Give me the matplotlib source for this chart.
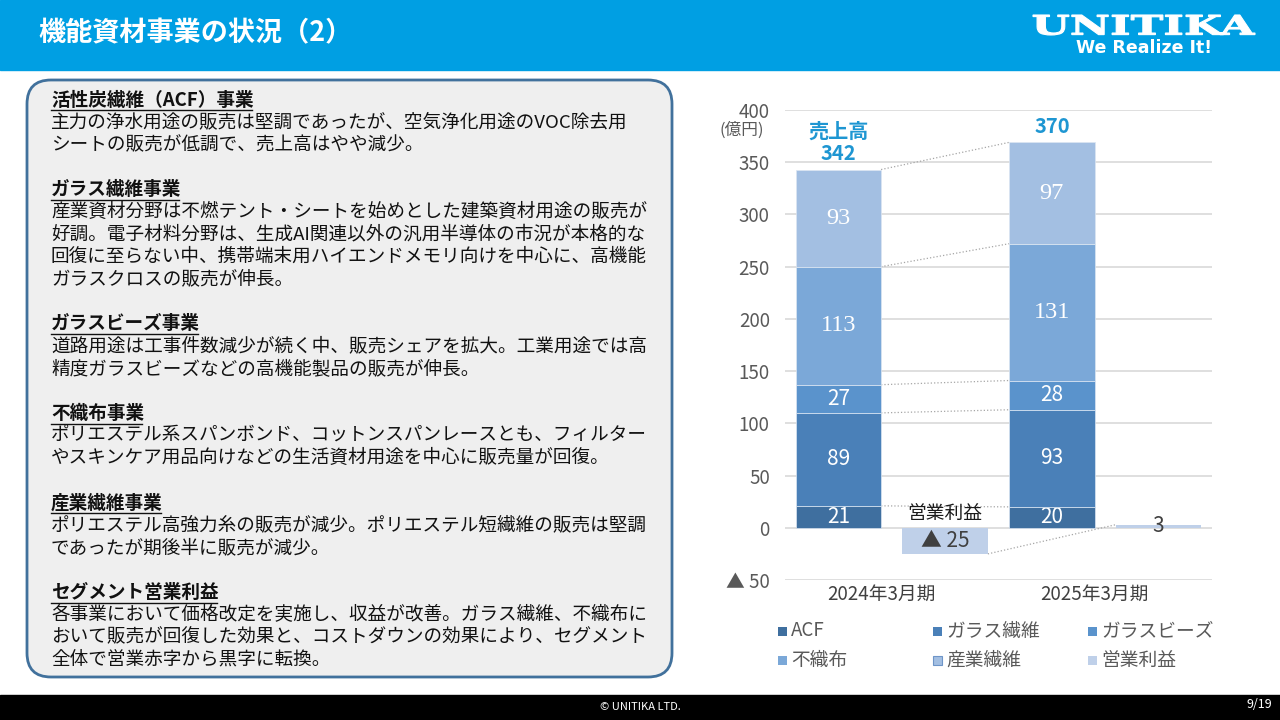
import matplotlib
matplotlib.use('Agg')
import matplotlib.pyplot as plt
from matplotlib.patches import Rectangle, FancyBboxPatch, PathPatch
from matplotlib.textpath import TextPath
from matplotlib.font_manager import FontProperties
from matplotlib.transforms import Affine2D
import numpy as np

plt.rcParams['font.family'] = ['Noto Sans CJK JP', 'DejaVu Sans']

# ---- データ ----
periods = ['2024年3月期', '2025年3月期']
segment_names = ['ACF', 'ガラス繊維', 'ガラスビーズ', '不織布', '産業繊維']
acf = [21, 20]
glass_fiber = [89, 93]
glass_beads = [27, 28]
nonwoven = [113, 131]
industrial = [93, 97]
sales_total = [342, 370]
op_profit = [-25, 3]
y_ticks = [-50, 0, 50, 100, 150, 200, 250, 300, 350, 400]
y_tick_labels = ['▲ 50', '0', '50', '100', '150', '200', '250', '300', '350', '400']
legend_names = ['ACF', 'ガラス繊維', 'ガラスビーズ', '不織布', '産業繊維', '営業利益']

seg_colors = ['#3F6F9F', '#4A80B8', '#5A93CC', '#7BA8D8', '#A3BFE2']
profit_color = '#BFD0E9'
# 上2系列のラベルは明朝系
label_fonts = [('Noto Sans CJK JP', 15), ('Noto Sans CJK JP', 15), ('Noto Sans CJK JP', 15),
               ('Liberation Serif', 17.5), ('Liberation Serif', 17.5)]

# 本文
sections = [
    ('活性炭繊維（ACF）事業', [
        '主力の浄水用途の販売は堅調であったが、空気浄化用途のVOC除去用',
        'シートの販売が低調で、売上高はやや減少。']),
    ('ガラス繊維事業', [
        '産業資材分野は不燃テント・シートを始めとした建築資材用途の販売が',
        '好調。電子材料分野は、生成AI関連以外の汎用半導体の市況が本格的な',
        '回復に至らない中、携帯端末用ハイエンドメモリ向けを中心に、高機能',
        'ガラスクロスの販売が伸長。']),
    ('ガラスビーズ事業', [
        '道路用途は工事件数減少が続く中、販売シェアを拡大。工業用途では高',
        '精度ガラスビーズなどの高機能製品の販売が伸長。']),
    ('不織布事業', [
        'ポリエステル系スパンボンド、コットンスパンレースとも、フィルター',
        'やスキンケア用品向けなどの生活資材用途を中心に販売量が回復。']),
    ('産業繊維事業', [
        'ポリエステル高強力糸の販売が減少。ポリエステル短繊維の販売は堅調',
        'であったが期後半に販売が減少。']),
    ('セグメント営業利益', [
        '各事業において価格改定を実施し、収益が改善。ガラス繊維、不織布に',
        'おいて販売が回復した効果と、コストダウンの効果により、セグメント',
        '全体で営業赤字から黒字に転換。']),
]

fig = plt.figure(figsize=(12.8, 7.2), dpi=100)

# 背景（ピクセル座標）
bg = fig.add_axes([0, 0, 1, 1])
bg.set_xlim(0, 1280)
bg.set_ylim(720, 0)
bg.axis('off')

bg.add_patch(Rectangle((0, 0), 1280, 70, color='#009FE3'))
bg.add_patch(Rectangle((0, 695), 1280, 25, color='black'))
bg.text(38, 33, '機能資材事業の状況（2）', color='white', fontsize=19.5,
        fontweight='bold', va='center')

# ロゴ
tp = TextPath((0, 0), 'UNITIKA', size=20,
              prop=FontProperties(family='DejaVu Serif', weight='bold'))
ext = tp.get_extents()
tr = Affine2D().translate(-ext.x0, -ext.y0).scale(222 / ext.width, -20 / ext.height).translate(1033, 35)
bg.add_patch(PathPatch(tp, transform=tr + bg.transData, fc='white', ec='white', lw=0.8))
bg.text(1144, 48, 'We Realize It!', color='white', fontsize=12.5, fontweight='bold',
        family='DejaVu Sans', ha='center', va='center')

bg.text(640, 707.5, '© UNITIKA LTD.', color='white', fontsize=8, ha='center', va='center')
bg.text(1272, 705, '9/19', color='white', fontsize=9, ha='right', va='center')

# テキストボックス
bg.add_patch(FancyBboxPatch((27, 80), 645, 597, boxstyle='round,pad=0,rounding_size=24',
                            fc='#EFEFEF', ec='#41719C', lw=2))
y = 100
step = 22.4
headings = []
for head, lines in sections:
    h = bg.text(51, y, head, fontsize=13.4, fontweight='bold', va='center', color='#111111')
    headings.append((h, y))
    y += step
    for ln in lines:
        bg.text(51, y, ln, fontsize=13.4, va='center', color='#111111')
        y += step
    y += step

fig.canvas.draw()
renderer = fig.canvas.get_renderer()
inv = bg.transData.inverted()
for h, yc in headings:
    bb = h.get_window_extent(renderer)
    x0 = inv.transform((bb.x0, 0))[0]
    x1 = inv.transform((bb.x1, 0))[0]
    bg.plot([x0, x1 - 2], [yc + 10.3, yc + 10.3], color='#111111', lw=1.0)

# ---- グラフ ----
ax = fig.add_axes([785 / 1280, 140 / 720, 427 / 1280, 470 / 720])
x_sales = np.arange(len(periods)) * 2
x_profit = x_sales + 1
w = 0.8

series = [acf, glass_fiber, glass_beads, nonwoven, industrial]
bottoms = np.zeros(len(periods))
levels = []
for vals, color, (fam, fs) in zip(series, seg_colors, label_fonts):
    bars = ax.bar(x_sales, vals, w, bottom=bottoms, color=color,
                  edgecolor='#DCE6F2', lw=0.5, zorder=3)
    ax.bar_label(bars, labels=[str(v) for v in vals], label_type='center',
                 color='white', fontsize=fs, fontfamily=fam)
    bottoms = bottoms + np.array(vals)
    levels.append(bottoms.copy())

# 区分線
for lv in levels:
    ax.plot([x_sales[0] + w / 2, x_sales[1] - w / 2], lv, ls=':', color='#A6A6A6',
            lw=0.9, zorder=2)

pbars = ax.bar(x_profit, op_profit, w, color=profit_color, zorder=3)
ax.bar_label(pbars, labels=['▲ %d' % -v if v < 0 else str(v) for v in op_profit],
             label_type='center', color='#404040', fontsize=15)
ax.plot([x_profit[0] + w / 2, x_profit[1] - w / 2], op_profit, ls=':', color='#A6A6A6',
        lw=0.9, zorder=2)
ax.annotate('営業利益', (x_profit[0], 0), xytext=(0, 3), textcoords='offset points',
            ha='center', va='bottom', fontsize=13.5, color='#1a1a1a')

# 売上高
captions = ['売上高\n%d' % sales_total[0], '%d' % sales_total[1]]
for xs, top, cap in zip(x_sales, levels[-1], captions):
    ax.annotate(cap, (xs, top), xytext=(0, 4), textcoords='offset points',
                ha='center', va='bottom', fontsize=14.5, fontweight='bold',
                color='#1E96D2', linespacing=1.05)

ax.set_xlim(-0.5, 3.5)
ax.set_ylim(-50, 400)
ax.set_yticks(y_ticks)
ax.set_yticklabels(y_tick_labels, color='#595959', fontsize=13.5)
ax.set_xticks(x_sales + 0.4)
ax.set_xticklabels(periods, color='#404040', fontsize=13.5)
ax.tick_params(axis='y', length=0, pad=11)
ax.tick_params(axis='x', length=0, pad=3)
for s in ax.spines.values():
    s.set_visible(False)
ax.yaxis.grid(True, color='#D9D9D9', lw=1.2)
ax.set_axisbelow(True)

bg.text(742, 130, '(億円)', fontsize=12, color='#595959', ha='center', va='center')

# 凡例
leg_colors = seg_colors + [profit_color]
for i, (name, color) in enumerate(zip(legend_names, leg_colors)):
    row, col = divmod(i, 3)
    lx = 778 + col * 155
    ly = 631 + row * 29
    ec = '#6E95C8' if name == '産業繊維' else 'none'
    bg.add_patch(Rectangle((lx, ly - 4.5), 9, 9, fc=color, ec=ec, lw=0.8))
    bg.text(lx + 13, ly, name, fontsize=13.5, color='#595959', va='center')

fig.savefig('out.png', dpi=100)
